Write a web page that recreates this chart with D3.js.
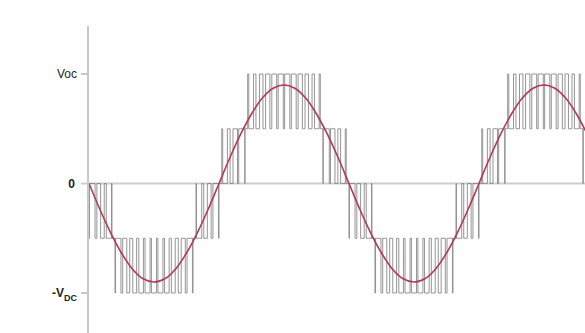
<!DOCTYPE html>
<html>
<head>
<meta charset="utf-8">
<script src="https://cdn.jsdelivr.net/npm/d3@7/dist/d3.min.js"></script>
<style>
  html, body { margin: 0; padding: 0; background: #fff; }
  svg { display: block; }
  text { font-family: "Liberation Sans", Arial, sans-serif; fill: #222; }
</style>
</head>
<body>
<svg id="chart" width="585" height="333"></svg>
<script>
// ---- data ----
// angle axis in degrees of the fundamental; levels in units of one DC step
const yTickValues = [2, 0, -2];
const yTickLabels = ["Voc", "0", "-VDC"];

// reference (modulating) wave samples, every 15 degrees
const sineAngle = [0,15,30,45,60,75,90,105,120,135,150,165,180,195,210,225,240,255,270,285,300,315,330,345,360,
                   375,390,405,420,435,450,465,480,495,510,525,540,555,570,585,600,615,630,645,660,675,690];
const sineValue = [0,-0.47,-0.9,-1.27,-1.56,-1.74,-1.8,-1.74,-1.56,-1.27,-0.9,-0.47,0,0.47,0.9,1.27,1.56,1.74,1.8,1.74,1.56,1.27,0.9,0.47,0,
                   -0.47,-0.9,-1.27,-1.56,-1.74,-1.8,-1.74,-1.56,-1.27,-0.9,-0.47,0,0.47,0.9,1.27,1.56,1.74,1.8,1.74,1.56,1.27,0.9];

// PWM switching cells: width of one carrier cell (deg) and average level inside each cell
const cellWidth = 9;
const cellValues = [
  -0.14,-0.42,-0.69,-0.94,-1.17,-1.37,-1.53,-1.66,-1.75,-1.79,-1.79,-1.75,-1.66,-1.53,-1.37,-1.17,-0.94,-0.69,-0.42,-0.14,
   0.14, 0.42, 0.69, 0.94, 1.17, 1.37, 1.53, 1.66, 1.75, 1.79, 1.79, 1.75, 1.66, 1.53, 1.37, 1.17, 0.94, 0.69, 0.42, 0.14,
  -0.14,-0.42,-0.69,-0.94,-1.17,-1.37,-1.53,-1.66,-1.75,-1.79,-1.79,-1.75,-1.66,-1.53,-1.37,-1.17,-0.94,-0.69,-0.42,-0.14,
   0.14, 0.42, 0.69, 0.94, 1.17, 1.37, 1.53, 1.66, 1.75, 1.79, 1.79, 1.75, 1.66, 1.53, 1.37, 1.17, 0.94
];

// ---- layout ----
const svg = d3.select("#chart");
const X0 = 89, X1 = 585;
const x = d3.scaleLinear().domain([0, 686.8]).range([X0, X1]);
const y = d3.scaleLinear().domain([-2, 2]).range([293, 74]);

const defs = svg.append("defs");
defs.append("clipPath").attr("id", "plot")
  .append("rect").attr("x", X0).attr("y", 0).attr("width", X1 - X0).attr("height", 333);

// axis line
svg.append("line")
  .attr("x1", X0 - 1).attr("x2", X0 - 1).attr("y1", 26).attr("y2", 333)
  .attr("stroke", "#c8c8c8").attr("stroke-width", 2);

// zero line
svg.append("line")
  .attr("x1", X0 - 8).attr("x2", X1).attr("y1", y(0)).attr("y2", y(0))
  .attr("stroke", "#cdcdcd").attr("stroke-width", 2);

// ticks
const tickG = svg.append("g");
yTickValues.forEach((v, i) => {
  if (v !== 0) {
    tickG.append("line")
      .attr("x1", X0 - 8).attr("x2", X0 - 1).attr("y1", y(v)).attr("y2", y(v))
      .attr("stroke", "#c8c8c8").attr("stroke-width", 2);
  }
});

// labels
svg.append("text").attr("x", 77).attr("y", y(2)).attr("dy", "0.35em")
  .attr("text-anchor", "end").style("font-size", "12px").text(yTickLabels[0]);
svg.append("text").attr("x", 75).attr("y", y(0)).attr("dy", "0.35em")
  .attr("text-anchor", "end").style("font-size", "12px").style("font-weight", "bold").text(yTickLabels[1]);
const vdc = svg.append("text").attr("x", 77).attr("y", y(-2)).attr("dy", "0.35em")
  .attr("text-anchor", "end").style("font-size", "12px").style("font-weight", "bold");
vdc.append("tspan").text(yTickLabels[2].slice(0, 2));
vdc.append("tspan").attr("dy", "4").style("font-size", "9px").text(yTickLabels[2].slice(2));

// PWM staircase
const pts = [];
cellValues.forEach((v, k) => {
  const t0 = k * cellWidth;
  const L = Math.floor(v);
  const d = v - L;
  pts.push([t0, L]);
  pts.push([t0 + (1 - d) / 2 * cellWidth, L + 1]);
  pts.push([t0 + (1 + d) / 2 * cellWidth, L]);
});
pts.push([cellValues.length * cellWidth, pts[pts.length - 1][1]]);

const stepLine = d3.line().x(d => x(d[0])).y(d => y(d[1])).curve(d3.curveStepAfter);
svg.append("path")
  .attr("clip-path", "url(#plot)")
  .attr("d", stepLine(pts))
  .attr("fill", "none")
  .attr("stroke", "#8a8a8a")
  .attr("stroke-width", 1)
  .attr("stroke-opacity", 0.9);

// reference sine
const sineLine = d3.line().x((d, i) => x(sineAngle[i])).y(d => y(d)).curve(d3.curveCatmullRom);
svg.append("path")
  .attr("clip-path", "url(#plot)")
  .attr("d", sineLine(sineValue))
  .attr("fill", "none")
  .attr("stroke", "#b23a55")
  .attr("stroke-width", 1.6);
</script>
</body>
</html>
